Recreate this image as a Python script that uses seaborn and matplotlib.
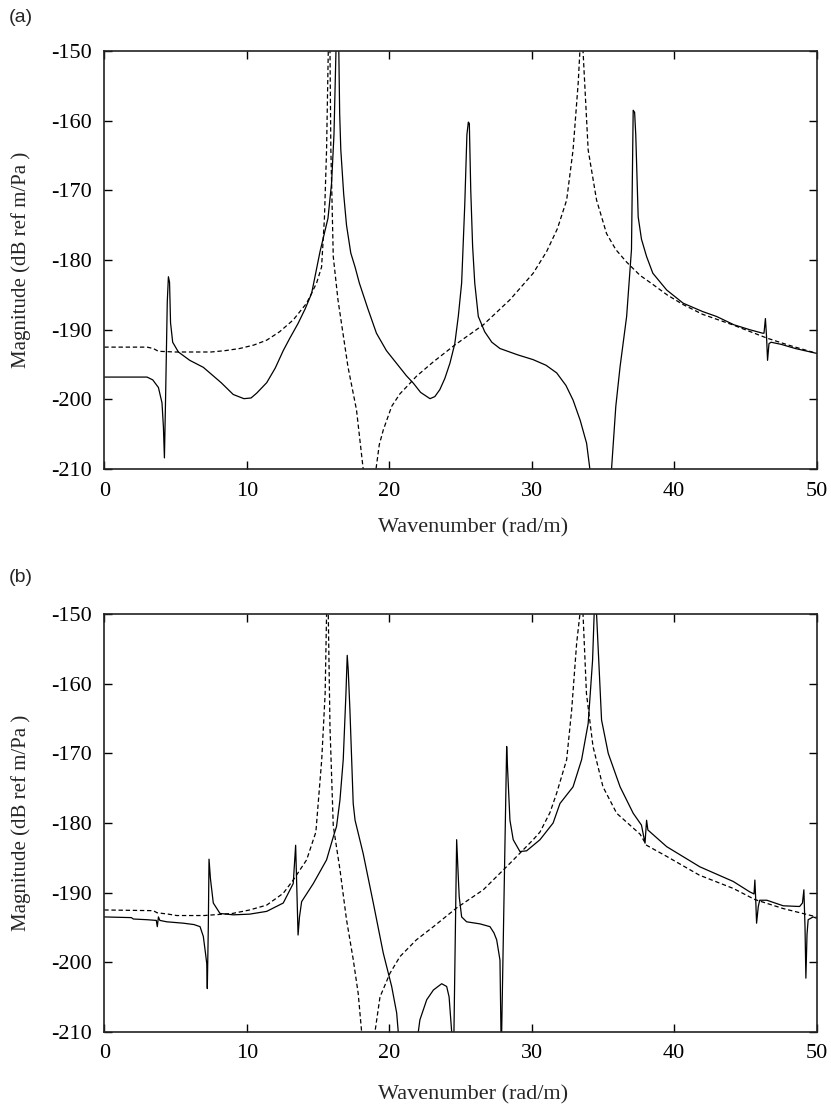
import matplotlib
matplotlib.use("Agg")
import matplotlib.pyplot as plt
import seaborn as sns
import pandas as pd

# ---------------- data (wavenumber in rad/m, magnitude in dB ref m/Pa) ----------------
a_solid_k = [0, 2.0, 3.0, 3.4, 3.8, 4.05, 4.15, 4.22, 4.3, 4.42, 4.5, 4.58, 4.65, 4.8, 5.2, 6.0,
             6.95, 8.2, 9.05, 9.8, 10.3, 10.7, 11.4, 12.0, 12.56, 13.0, 13.6, 14.1, 14.55, 15.14,
             15.7, 15.95, 16.12, 16.26, 16.36, 16.46, 16.52, 16.6, 16.8, 17.0, 17.3, 17.6, 17.9,
             18.5, 19.1, 19.8, 20.5, 21.2, 21.7, 22.2, 22.86, 23.2, 23.55, 23.9, 24.26, 24.6,
             24.85, 25.08, 25.3, 25.45, 25.55, 25.62, 25.72, 25.85, 26.0, 26.25, 26.7, 27.2,
             27.77, 29.0, 30.1, 31.0, 31.75, 32.4, 32.9, 33.4, 33.85, 34.08, 34.15, 35.55, 35.6,
             35.9, 36.2, 36.66, 37.0, 37.12, 37.22, 37.3, 37.47, 37.7, 38.06, 38.5, 39.47, 40.63,
             42.0, 42.97, 44.2, 45.3, 46.2, 46.3, 46.4, 46.48, 46.55, 46.65, 46.8, 47.5, 48.5, 50]
a_solid_db = [-196.8, -196.8, -196.8, -197.2, -198.3, -200.5, -204, -208.4, -200, -186, -182.4,
              -183.2, -189, -191.8, -193.2, -194.4, -195.4, -197.6, -199.3, -199.9, -199.8,
              -199.1, -197.6, -195.5, -193.0, -191.3, -189.1, -187.0, -184.8, -178.8, -174.0,
              -169, -162, -150, -140, -150, -159, -164.2, -170.5, -175.0, -179, -181, -183.3,
              -187.0, -190.5, -193, -194.8, -196.6, -197.7, -199.0, -199.9, -199.6, -198.6,
              -197.0, -194.8, -192.0, -188, -183.3, -172, -162, -160.2, -160.4, -170, -178,
              -183.3, -188.1, -190.3, -191.8, -192.7, -193.6, -194.3, -195.1, -196.2, -198.0,
              -200.1, -203, -206.3, -210, -225, -225, -210, -201, -195.3, -188.1, -178.5,
              -158.5, -158.8, -162, -173.8, -177.0, -179.5, -181.9, -184.3, -186.2, -187.4,
              -188.1, -189.3, -190.0, -190.5, -190.5, -188.4, -191, -194.4, -192, -191.8,
              -192.1, -192.7, -193.4]

a_dash_k = [0, 3.0, 3.44, 3.8, 5.0, 7.5, 8.5, 9.5, 10.5, 11.4, 12.3, 13.26, 14.2, 14.9, 15.25,
            15.45, 15.6, 15.72, 15.78, 15.84, 15.9, 16.07, 16.4, 16.75, 17.1, 17.7, 18.17, 18.3,
            18.95, 19.07, 19.3, 19.58, 20.17, 20.75, 21.45, 21.9, 23.1, 24.6, 26.6, 28.47, 30.1,
            31.04, 31.8, 32.45, 32.9, 33.26, 33.38, 33.48, 33.6, 33.96, 34.55, 35.25, 35.9,
            36.66, 37.6, 38.5, 39.5, 40.63, 42.0, 44.1, 46.5, 48.0, 50]
a_dash_db = [-192.5, -192.5, -192.7, -193.1, -193.2, -193.2, -193.0, -192.7, -192.2, -191.5,
             -190.3, -188.6, -186.2, -183.3, -181, -174, -164.2, -150, -140, -150, -164,
             -179.5, -185.7, -190.5, -195.3, -201.5, -210, -225, -225, -210, -206.5, -204.4,
             -201.0, -199.2, -197.7, -196.7, -194.6, -192.2, -189.3, -185.7, -181.9, -178.8,
             -175.5, -171.4, -164.2, -154.6, -150, -140, -150, -164.2, -171.4, -176.2, -178.5,
             -180.3, -182.2, -183.5, -185.0, -186.4, -187.8, -189.3, -191.2, -192.2, -193.4]

b_solid_k = [0, 1.9, 2.04, 3.0, 3.65, 3.72, 3.8, 3.9, 4.38, 5.55, 6.3, 6.72, 6.95, 7.12, 7.19,
             7.23, 7.3, 7.35, 7.45, 7.65, 8.12, 9.05, 10.2, 11.4, 12.56, 13.26, 13.43, 13.52,
             13.6, 13.7, 13.85, 14.67, 15.6, 16.07, 16.3, 16.54, 16.77, 16.96, 17.05, 17.12,
             17.24, 17.47, 17.6, 18.17, 18.88, 19.58, 20.17, 20.52, 20.63, 20.7, 21.95, 22.04,
             22.15, 22.63, 23.1, 23.68, 24.03, 24.2, 24.38, 24.42, 24.5, 24.54, 24.73, 24.85,
             24.91, 25.08, 25.43, 26.37, 27.07, 27.35, 27.54, 27.77, 27.84, 27.855, 27.89, 28.24,
             28.3, 28.47, 28.7, 29.17, 29.64, 30.58, 31.5, 31.98, 32.9, 33.5, 33.96, 34.27, 34.38,
             34.46, 34.55, 34.9, 35.37, 36.2, 37.12, 37.7, 37.95, 38.06, 38.15, 39.47, 41.8,
             44.14, 45.3, 45.6, 45.66, 45.72, 45.78, 45.9, 46.0, 46.5, 47.65, 48.8, 49.0, 49.1,
             49.18, 49.24, 49.32, 49.4, 49.75, 50]
b_solid_db = [-193.5, -193.6, -193.8, -193.9, -194.0, -194.9, -193.5, -194.0, -194.2, -194.4,
              -194.6, -194.9, -196.3, -199, -200.2, -203.8, -195, -185.2, -188, -191.5, -193.0,
              -193.2, -193.1, -192.7, -191.5, -188.7, -183.2, -190, -196.1, -193.5, -191.3,
              -188.7, -185.3, -182.0, -180.5, -176.7, -170.9, -161.4, -155.9, -158, -163.8,
              -177.2, -179.6, -184.4, -191.5, -198.7, -203.5, -207.3, -210, -225, -225, -210,
              -208.3, -205.4, -204, -203.1, -203.5, -205, -210, -222, -222, -210, -182.4, -188,
              -190.6, -193.5, -194.2, -194.5, -194.9, -195.8, -196.8, -199.7, -210, -222, -210,
              -169.0, -172, -179.6, -182.4, -184.1, -184.0, -182.4, -180, -177.2, -174.8, -170.9,
              -165.7, -156.6, -150, -140, -150, -165.2, -170, -174.8, -178.6, -180.3, -182.9,
              -179.6, -181, -183.4, -186.3, -188.4, -189.9, -190.2, -188.2, -191, -194.4, -192,
              -191.1, -191.1, -191.9, -192.0, -191.5, -189.6, -195, -202.3, -196, -193.9,
              -193.5, -193.7]

b_dash_k = [0, 3.44, 3.7, 4.5, 5.08, 7.0, 9.0, 10.2, 11.4, 12.56, 13.26, 14.2, 14.85, 15.26,
            15.5, 15.6, 15.66, 15.72, 15.84, 16.07, 16.54, 17.0, 17.47, 17.82, 18.06, 18.15,
            18.9, 19.0, 19.35, 20.05, 20.75, 21.9, 23.1, 24.73, 26.6, 28.47, 30.1, 30.58, 31.28,
            31.75, 32.45, 32.8, 33.15, 33.38, 33.48, 33.6, 33.84, 34.3, 35.0, 35.96, 37.6, 38.06,
            39.47, 41.77, 44.14, 45.66, 47.65, 50]
b_dash_db = [-192.5, -192.6, -192.9, -193.1, -193.3, -193.3, -193.0, -192.5, -191.8, -190.1,
             -188.2, -185.3, -181.3, -170.9, -161.4, -150, -140, -150, -166.2, -180.4, -186.7,
             -193.9, -199.6, -204.5, -210, -225, -225, -210, -205, -201.6, -199.2, -196.8,
             -194.9, -192.2, -189.6, -185.8, -182.4, -181.3, -178.5, -175.7, -170.9, -163.8,
             -154.2, -150, -140, -150, -161.4, -169, -174.8, -178.6, -181.6, -183.2, -184.8,
             -187.5, -189.4, -191.0, -192.3, -193.5]

panel_labels = ["(a)", "(b)"]
x_ticks = [0, 10, 20, 30, 40, 50]
y_ticks = [-210, -200, -190, -180, -170, -160, -150]
x_label = "Wavenumber (rad/m)"
y_label = "Magnitude (dB ref m/Pa )"

# ---------------- style ----------------
sns.set_style("ticks")
plt.rcParams["font.family"] = ["Liberation Serif", "DejaVu Serif"]
plt.rcParams["axes.linewidth"] = 1.2

fig = plt.figure(figsize=(8.31, 11.07), dpi=100)
ax_a = fig.add_axes([0.1255, 0.5763, 0.8573, 0.3776])
ax_b = fig.add_axes([0.1255, 0.0680, 0.8573, 0.3771])

series = [
    (ax_a, a_solid_k, a_solid_db, a_dash_k, a_dash_db, 0.984, -0.118),
    (ax_b, b_solid_k, b_solid_db, b_dash_k, b_dash_db, 0.4785, -0.127),
]

for (ax, sk, sdb, dk, ddb, ly, xly), lab in zip(series, panel_labels):
    df_s = pd.DataFrame({"k": sk, "db": sdb})
    df_d = pd.DataFrame({"k": dk, "db": ddb})
    sns.lineplot(data=df_d, x="k", y="db", ax=ax, color="black", lw=0.9,
                 estimator=None, sort=False)
    ax.lines[-1].set_linestyle((0, (3.5, 2.2)))
    sns.lineplot(data=df_s, x="k", y="db", ax=ax, color="black", lw=0.9,
                 estimator=None, sort=False)
    ax.set_xlim(0, 50)
    ax.set_ylim(-210, -150)
    ax.set_xticks(x_ticks)
    ax.set_yticks(y_ticks)
    ax.set_xticklabels([str(t) for t in x_ticks])
    ax.set_yticklabels([str(t) for t in y_ticks])
    ax.tick_params(direction="in", top=True, right=True, length=6, width=1.0,
                   labelsize=16, colors="black")
    ax.tick_params(axis="x", pad=9)
    ax.tick_params(axis="y", pad=9)
    for sp in ax.spines.values():
        sp.set_visible(True)
        sp.set_color("#222222")
    ax.set_xlabel(x_label, fontsize=16)
    ax.set_ylabel(y_label, fontsize=15)
    ax.xaxis.set_label_coords(0.517, xly)
    ax.yaxis.set_label_coords(-0.103, 0.5)
    fig.text(0.010, ly, lab, fontsize=14, family=["Liberation Sans", "DejaVu Sans"],
             ha="left", va="center")

fig.savefig("out.png", dpi=100)
